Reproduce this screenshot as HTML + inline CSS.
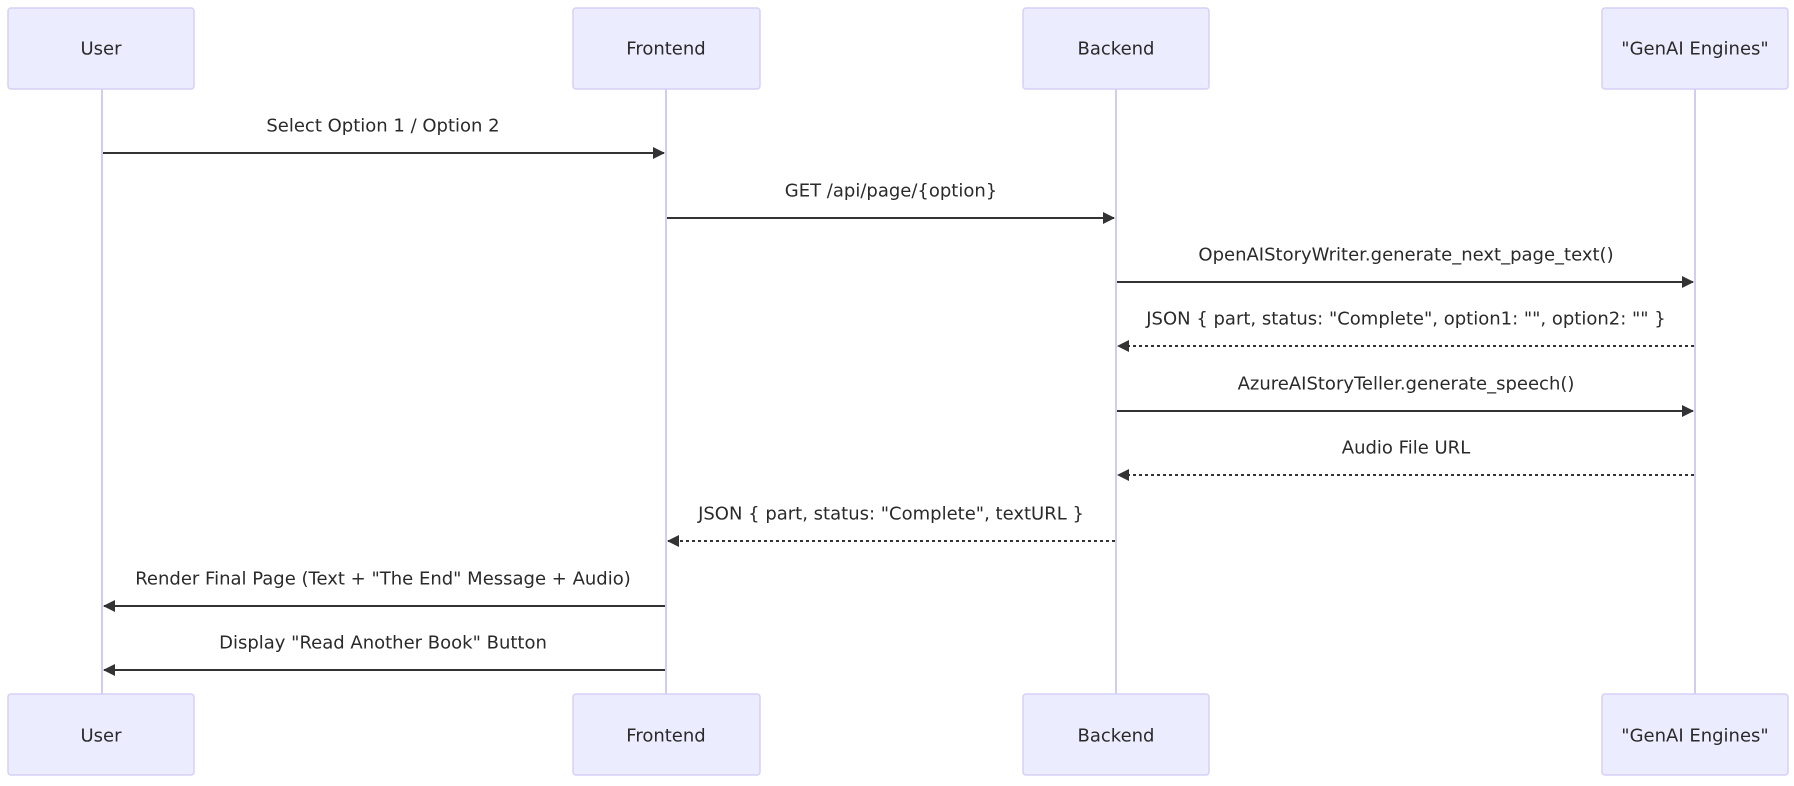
<!DOCTYPE html>
<html><head><meta charset="utf-8"><style>
html,body{margin:0;padding:0;background:#fff;}
svg text{font-family:"DejaVu Sans","Liberation Sans",sans-serif;font-size:18px;fill:#2a2a2a;text-anchor:middle;dominant-baseline:central;}
</style></head><body>
<svg width="1794" height="781" viewBox="0 0 1794 781" xmlns="http://www.w3.org/2000/svg">
<defs>
<marker id="ah" markerWidth="12" markerHeight="12" refX="11" refY="6" orient="auto" markerUnits="userSpaceOnUse">
<path d="M0,0 L12,6 L0,12 z" fill="#333"/>
</marker>
</defs>
<g stroke="#d3cbf2" stroke-width="2">
<line x1="102" y1="89" x2="102" y2="694"/>
<line x1="666" y1="89" x2="666" y2="694"/>
<line x1="1116" y1="89" x2="1116" y2="694"/>
<line x1="1695" y1="89" x2="1695" y2="694"/>
</g>
<g fill="#ececff" stroke="#d7d0f5" stroke-width="1.5">
<rect x="8" y="8" width="186" height="81" rx="3"/>
<rect x="573" y="8" width="187" height="81" rx="3"/>
<rect x="1023" y="8" width="186" height="81" rx="3"/>
<rect x="1602" y="8" width="186" height="81" rx="3"/>
<rect x="8" y="694" width="186" height="81" rx="3"/>
<rect x="573" y="694" width="187" height="81" rx="3"/>
<rect x="1023" y="694" width="186" height="81" rx="3"/>
<rect x="1602" y="694" width="186" height="81" rx="3"/>
</g>
<g>
<text x="101" y="49">User</text>
<text x="666" y="49">Frontend</text>
<text x="1116" y="49">Backend</text>
<text x="1695" y="49">"GenAI Engines"</text>
<text x="101" y="736">User</text>
<text x="666" y="736">Frontend</text>
<text x="1116" y="736">Backend</text>
<text x="1695" y="736">"GenAI Engines"</text>
</g>
<g stroke="#333" stroke-width="2" fill="none">
<line x1="103" y1="153" x2="664" y2="153" marker-end="url(#ah)"/>
<line x1="667" y1="218" x2="1114" y2="218" marker-end="url(#ah)"/>
<line x1="1117" y1="282" x2="1693" y2="282" marker-end="url(#ah)"/>
<line x1="1694" y1="346" x2="1118" y2="346" stroke-dasharray="3,3" marker-end="url(#ah)"/>
<line x1="1117" y1="411" x2="1693" y2="411" marker-end="url(#ah)"/>
<line x1="1694" y1="475" x2="1118" y2="475" stroke-dasharray="3,3" marker-end="url(#ah)"/>
<line x1="1115" y1="541" x2="668" y2="541" stroke-dasharray="3,3" marker-end="url(#ah)"/>
<line x1="665" y1="606" x2="104" y2="606" marker-end="url(#ah)"/>
<line x1="665" y1="670" x2="104" y2="670" marker-end="url(#ah)"/>
</g>
<g>
<text x="383" y="126">Select Option 1 / Option 2</text>
<text x="891" y="191">GET /api/page/{option}</text>
<text x="1406" y="255">OpenAIStoryWriter.generate_next_page_text()</text>
<text x="1406" y="319">JSON { part, status: "Complete", option1: "", option2: "" }</text>
<text x="1406" y="384">AzureAIStoryTeller.generate_speech()</text>
<text x="1406" y="448">Audio File URL</text>
<text x="891" y="514">JSON { part, status: "Complete", textURL }</text>
<text x="383" y="579">Render Final Page (Text + "The End" Message + Audio)</text>
<text x="383" y="643">Display "Read Another Book" Button</text>
</g>
</svg>
</body></html>
